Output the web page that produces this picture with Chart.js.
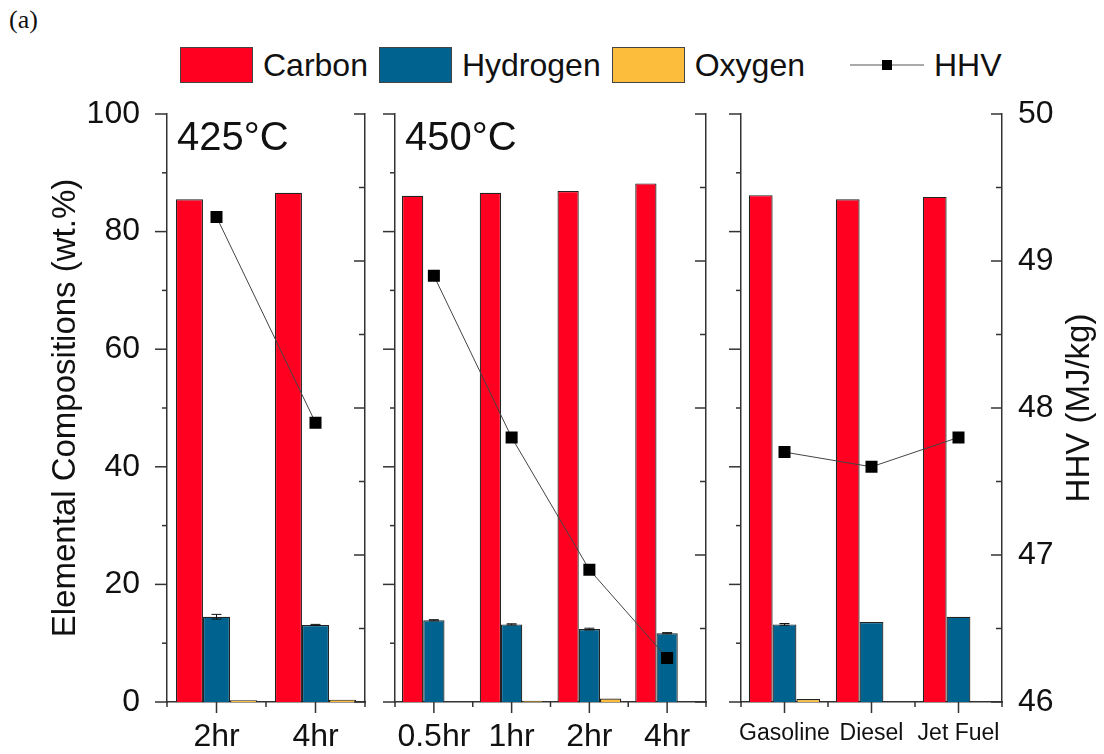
<!DOCTYPE html>
<html>
<head>
<meta charset="utf-8">
<script src="https://cdn.jsdelivr.net/npm/chart.js@4.4.1/dist/chart.umd.min.js"></script>
<style>
  html, body { margin: 0; padding: 0; background: #fff; }
  #wrap { position: relative; width: 1104px; height: 754px; overflow: hidden; font-family: 'Liberation Sans', Arial, sans-serif; color: #111; }
  #wrap canvas { position: absolute; left: 0; top: 0; }
  #tag { position: absolute; left: 9px; top: 5px; font-family: 'Liberation Serif', serif; font-size: 26px; }
  #legend { position: absolute; left: 180px; top: 47px; height: 36px; display: flex; align-items: center; font-size: 32px; }
  .lg-item { display: flex; align-items: center; margin-right: 11px; }
  .lg-box { width: 71px; height: 34px; border: 1px solid #444; margin-right: 10px; }
  .lg-line { position: relative; width: 74px; height: 2px; background: #aaa; margin-left: 34px; margin-right: 10px; }
  .lg-line span { position: absolute; left: 32px; top: -4px; width: 10px; height: 10px; background: #000; }
</style>
</head>
<body>
<div id="wrap">
  <div id="tag">(a)</div>
  <div id="legend"></div>
  <canvas id="p425" width="1104" height="754"></canvas>
  <canvas id="p450" width="1104" height="754"></canvas>
  <canvas id="pfuel" width="1104" height="754"></canvas>
</div>
<script>
// ---- data ----
const series = ['Carbon', 'Hydrogen', 'Oxygen'];
const seriesColors = ['#ff0020', '#00628f', '#fbbd3b'];

const labels425 = ['2hr', '4hr'];
const carbon425 = [85.5, 86.6];
const hydrogen425 = [14.5, 13.1];
const oxygen425 = [0.3, 0.4];
const hhv425 = [49.3, 47.9];
const hydrogenErr425 = [0.4, 0.1];

const labels450 = ['0.5hr', '1hr', '2hr', '4hr'];
const carbon450 = [86.1, 86.6, 86.9, 88.2];
const hydrogen450 = [13.9, 13.2, 12.4, 11.7];
const oxygen450 = [0, 0.2, 0.6, 0];
const hhv450 = [48.9, 47.8, 46.9, 46.3];
const hydrogenErr450 = [0.1, 0.1, 0.15, 0.1];

const labelsFuel = ['Gasoline', 'Diesel', 'Jet Fuel'];
const carbonFuel = [86.2, 85.5, 85.9];
const hydrogenFuel = [13.2, 13.6, 14.5];
const oxygenFuel = [0.5, 0, 0];
const hhvFuel = [47.7, 47.6, 47.8];
const hydrogenErrFuel = [0.15, 0, 0];

Chart.defaults.font.family = "'Liberation Sans', Arial, sans-serif";
Chart.defaults.color = '#111';

// legend (html)
const legendEl = document.getElementById('legend');
series.forEach((name, k) => {
    legendEl.innerHTML += `<div class="lg-item"><div class="lg-box" style="background:${seriesColors[k]}"></div><span>${name}</span></div>`;
});
legendEl.innerHTML += `<div class="lg-item"><div class="lg-line"><span></span></div><span>HHV</span></div>`;

// axis ticks, error bars and panel captions
const panelDecor = {
    id: 'panelDecor',
    afterDatasetsDraw(chart) {
        const { ctx, scales } = chart;
        ctx.save();
        ctx.strokeStyle = '#111';
        ctx.lineWidth = 1;
        chart.data.datasets.forEach((ds, di) => {
            if (!ds.errors) return;
            chart.getDatasetMeta(di).data.forEach((bar, i) => {
                const e = ds.errors[i];
                if (!e) return;
                const yt = scales.y.getPixelForValue(ds.data[i] + e);
                const yb = scales.y.getPixelForValue(ds.data[i] - e);
                ctx.beginPath();
                ctx.moveTo(bar.x, yt); ctx.lineTo(bar.x, yb);
                ctx.moveTo(bar.x - 5, yt); ctx.lineTo(bar.x + 5, yt);
                ctx.moveTo(bar.x - 5, yb); ctx.lineTo(bar.x + 5, yb);
                ctx.stroke();
            });
        });
        ctx.restore();
    },
    afterDraw(chart, args, opts) {
        const { ctx, chartArea: a, scales } = chart;
        const line = (x1, y1, x2, y2) => { ctx.beginPath(); ctx.moveTo(x1, y1); ctx.lineTo(x2, y2); ctx.stroke(); };
        ctx.save();
        ctx.strokeStyle = '#333';
        ctx.lineWidth = 1.5;
        // left axis: outward ticks
        for (let v = scales.y.min; v <= scales.y.max; v += 10) {
            const py = scales.y.getPixelForValue(v);
            line(a.left - (v % 20 === 0 ? 12 : 5), py, a.left, py);
        }
        // right axis: inward ticks
        for (let v = scales.y2.min; v <= scales.y2.max; v += 0.5) {
            const py = scales.y2.getPixelForValue(v);
            line(a.right - (Number.isInteger(v) ? 11 : 6), py, a.right, py);
        }
        // x axis
        const n = scales.x.ticks.length;
        const centers = [];
        for (let i = 0; i < n; i++) {
            centers.push(scales.x.getPixelForValue(i));
            line(centers[i], a.bottom, centers[i], a.bottom + 11);
        }
        for (let i = 0; i <= n; i++) {
            const px = i === 0 ? a.left : i === n ? a.right : (centers[i - 1] + centers[i]) / 2;
            line(px, a.bottom, px, a.bottom + 5);
        }
        ctx.fillStyle = '#111';
        if (opts.label) {
            ctx.font = "40px 'Liberation Sans', Arial, sans-serif";
            ctx.textAlign = 'left';
            ctx.textBaseline = 'alphabetic';
            ctx.fillText(opts.label, a.left + 10, a.top + 36);
        }
        if (opts.rightTitle) {
            ctx.translate(1080, (a.top + a.bottom) / 2);
            ctx.rotate(-Math.PI / 2);
            ctx.font = "33px 'Liberation Sans', Arial, sans-serif";
            ctx.textAlign = 'center';
            ctx.textBaseline = 'middle';
            ctx.fillText(opts.rightTitle, 0, 0);
        }
        ctx.restore();
    }
};

function makePanel(id, cfg) {
    const datasets = series.map((name, k) => ({
        type: 'bar',
        label: name,
        data: cfg.values[k],
        errors: cfg.errors[k],
        yAxisID: 'y',
        order: 1,
        backgroundColor: seriesColors[k],
        borderColor: '#222',
        borderWidth: 1.2,
        borderSkipped: 'start',
        barPercentage: 1,
        categoryPercentage: 0.82
    }));
    datasets.push({
        type: 'line',
        label: 'HHV',
        data: cfg.hhv,
        yAxisID: 'y2',
        order: 0,
        borderColor: '#444',
        borderWidth: 1,
        pointStyle: 'rect',
        pointRadius: 8.5,
        pointBackgroundColor: '#000',
        pointBorderColor: '#000',
        pointBorderWidth: 0
    });
    const axisBorder = { display: true, color: '#333', width: 1.5 };
    return new Chart(document.getElementById(id), {
        data: { labels: cfg.labels, datasets },
        options: {
            responsive: false,
            animation: false,
            layout: { padding: { top: 114, left: 0, right: 0, bottom: 0 } },
            plugins: {
                legend: { display: false },
                tooltip: { enabled: false },
                panelDecor: { label: cfg.label, rightTitle: cfg.rightTitle }
            },
            scales: {
                x: {
                    position: 'bottom',
                    z: 1,
                    grid: { display: false },
                    border: axisBorder,
                    ticks: { font: { size: cfg.xFont }, padding: cfg.xPad, maxRotation: 0, autoSkip: false },
                    afterFit: s => { s.height = 52; }
                },
                y: {
                    position: 'left',
                    min: 0, max: 100,
                    grid: { display: false },
                    border: axisBorder,
                    ticks: { display: cfg.showLeft, stepSize: 20, font: { size: 32 }, padding: 19 },
                    title: { display: cfg.showLeft, text: 'Elemental Compositions (wt.%)', font: { size: 33 }, padding: { top: 46, bottom: 0 } },
                    afterFit: s => { s.width = cfg.left; }
                },
                y2: {
                    position: 'right',
                    min: 46, max: 50,
                    grid: { display: false },
                    border: axisBorder,
                    ticks: { display: cfg.showRight, stepSize: 1, font: { size: 32 }, padding: 8 },
                    afterFit: s => { s.width = 1104 - cfg.right; }
                }
            }
        },
        plugins: [panelDecor]
    });
}

makePanel('p425', {
    labels: labels425,
    values: [carbon425, hydrogen425, oxygen425],
    errors: [null, hydrogenErr425, null],
    hhv: hhv425,
    left: 167, right: 365,
    showLeft: true, showRight: false,
    xFont: 32, xPad: 8,
    label: '425°C'
});

makePanel('p450', {
    labels: labels450,
    values: [carbon450, hydrogen450, oxygen450],
    errors: [null, hydrogenErr450, null],
    hhv: hhv450,
    left: 395, right: 706,
    showLeft: false, showRight: false,
    xFont: 32, xPad: 8,
    label: '450°C'
});

makePanel('pfuel', {
    labels: labelsFuel,
    values: [carbonFuel, hydrogenFuel, oxygenFuel],
    errors: [null, hydrogenErrFuel, null],
    hhv: hhvFuel,
    left: 741, right: 1002,
    showLeft: false, showRight: true,
    xFont: 23, xPad: 10,
    rightTitle: 'HHV (MJ/kg)'
});
</script>
</body>
</html>
